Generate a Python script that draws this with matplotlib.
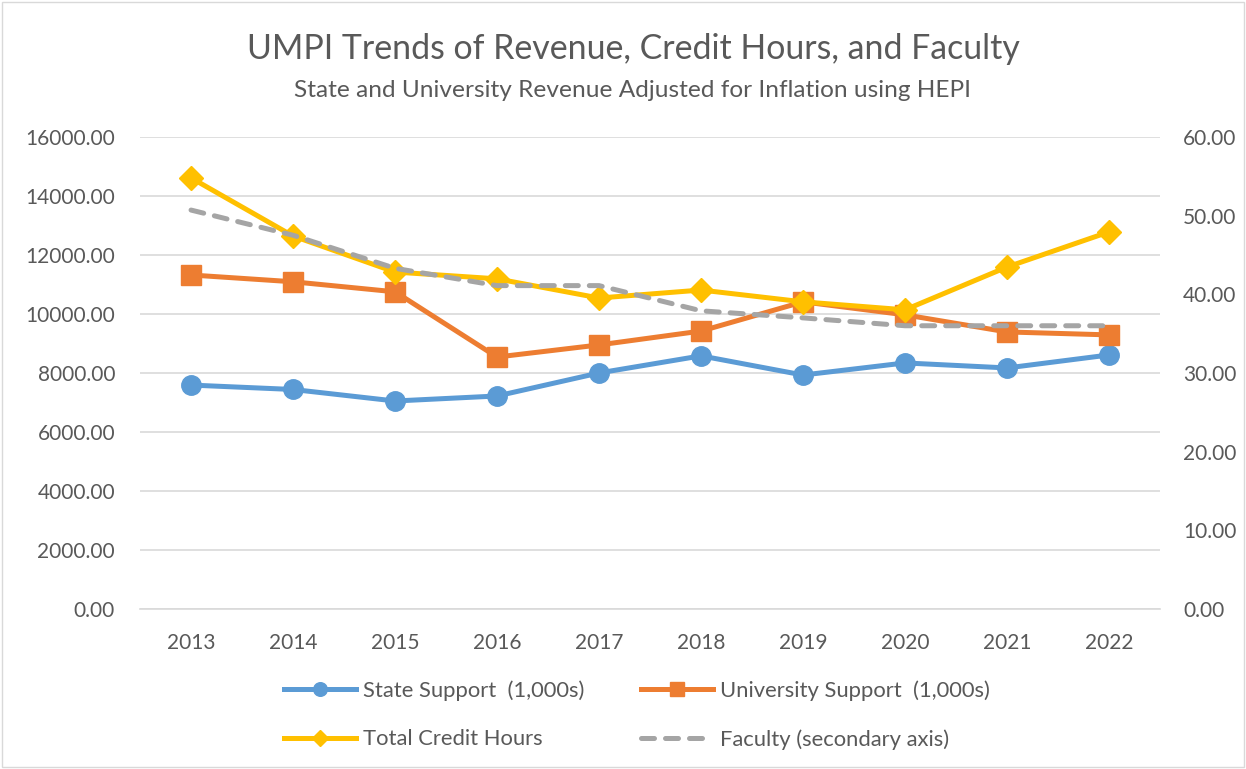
import matplotlib.pyplot as plt
from matplotlib.patches import Rectangle

# data
years = [2013, 2014, 2015, 2016, 2017, 2018, 2019, 2020, 2021, 2022]
state_support = [7590, 7440, 7050, 7220, 8000, 8580, 7930, 8340, 8170, 8610]
university_support = [11320, 11090, 10750, 8540, 8950, 9420, 10410, 9970, 9390, 9290]
credit_hours = [14610, 12640, 11420, 11190, 10540, 10810, 10410, 10140, 11590, 12780]
faculty = [50.7, 47.5, 43.3, 41.1, 41.1, 37.9, 37.0, 36.0, 36.0, 36.0]

left_ticks = [0, 2000, 4000, 6000, 8000, 10000, 12000, 14000, 16000]
right_ticks = [0, 10, 20, 30, 40, 50, 60]

text_color = '#595959'
plt.rcParams['font.family'] = ['Lato', 'DejaVu Sans']

fig = plt.figure(figsize=(12.46, 7.69), dpi=100)
ax = fig.add_axes([0.1124, 0.208, 0.8186, 0.614])
ax2 = ax.twinx()

lw = 3.6
l1, = ax.plot(years, state_support, color='#5B9BD5', lw=lw, marker='o', markersize=14,
              label='State Support  (1,000s)')
l2, = ax.plot(years, university_support, color='#ED7D31', lw=lw, marker='s', markersize=14,
              label='University Support  (1,000s)')
l3, = ax.plot(years, credit_hours, color='#FFC000', lw=lw, marker='D', markersize=12,
              label='Total Credit Hours')
l4, = ax2.plot(years, faculty, color='#A5A5A5', lw=lw, ls=(0, (2.6, 2.2)),
               dash_capstyle='round', label='Faculty (secondary axis)')

ax.set_xlim(2012.5, 2022.5)
ax.set_ylim(0, 16000)
ax2.set_ylim(0, 60)
ax.set_xticks(years)
ax.set_yticks(left_ticks)
ax.set_yticklabels([f'{v:.2f}' for v in left_ticks])
ax2.set_yticks(right_ticks)
ax2.set_yticklabels([f'{v:.2f}' for v in right_ticks])

ax.grid(axis='y', color='#D9D9D9', lw=1.2)
ax.set_axisbelow(True)
for a in (ax, ax2):
    for s in a.spines.values():
        s.set_visible(False)
    a.tick_params(length=0, labelsize=15, colors=text_color)
ax.tick_params(axis='y', pad=18)
ax.tick_params(axis='x', pad=17)
ax2.tick_params(axis='y', pad=16.5)
ax.spines['bottom'].set_visible(True)
ax.spines['bottom'].set_color('#D9D9D9')
ax.spines['bottom'].set_linewidth(1.2)

fig.text(0.508, 0.936, 'UMPI Trends of Revenue, Credit Hours, and Faculty',
         ha='center', va='center', fontsize=24.4, color=text_color)
fig.text(0.508, 0.882, 'State and University Revenue Adjusted for Inflation using HEPI',
         ha='center', va='center', fontsize=17.6, color=text_color)

# row-wise order like the original: State, University / Credit Hours, Faculty
fig.legend(handles=[l1, l3, l2, l4], loc='center', bbox_to_anchor=(0.511, 0.07),
           ncol=2, frameon=False, fontsize=15.8, labelcolor=text_color,
           handlelength=3.3, markerscale=0.7, columnspacing=2.6, labelspacing=1.3,
           handletextpad=0.3)

fig.patches.append(Rectangle((0.002, 0.002), 0.996, 0.996, transform=fig.transFigure,
                             fill=False, edgecolor='#D9D9D9', lw=1))

fig.savefig('out.png', dpi=100)
